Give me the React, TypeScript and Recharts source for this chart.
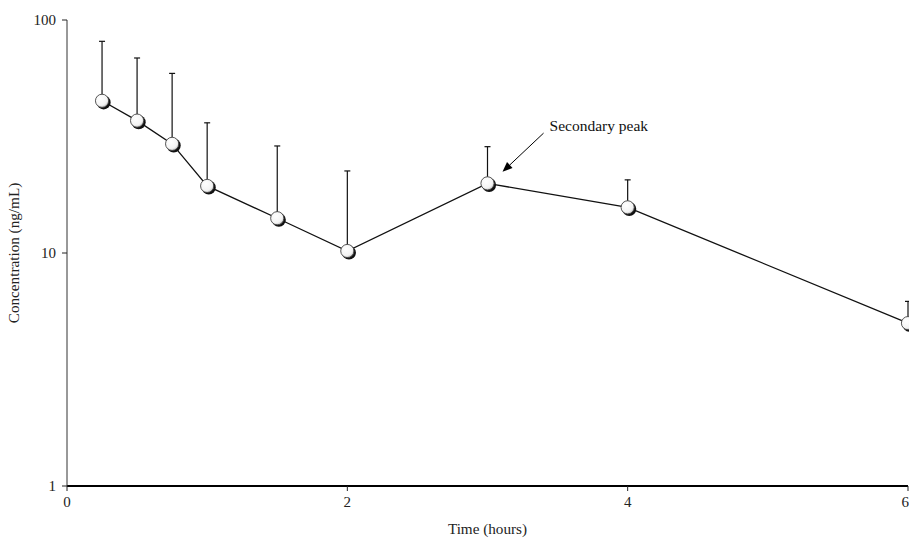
import { LineChart, Line, XAxis, YAxis, ErrorBar, ReferenceLine } from 'recharts';

// Sampling times (hours)
const times = [0.25, 0.5, 0.75, 1, 1.5, 2, 3, 4, 6];
// Mean concentration (ng/mL)
const meanConc = [45, 37, 29.4, 19.4, 14.1, 10.2, 19.9, 15.7, 5];
// Upper end of the error bar (mean + SD)
const upperConc = [81, 68.7, 59, 36.2, 28.8, 22.5, 28.6, 20.6, 6.2];

const xTicks = [0, 2, 4, 6];
const yTicks = [1, 10, 100];

// Arrow pointing at the secondary peak, in data units
const arrowFrom = { x: 3.4, y: 32.7 };
const arrowTo = { x: 3.107, y: 22.3 };
const peakLabel = 'Secondary peak';

const data = times.map((t, i) => ({
  time: t,
  conc: meanConc[i],
  err: [0, upperConc[i] - meanConc[i]],
}));

const FONT = '"Liberation Serif", "Times New Roman", serif';

const SphereDot = (props: any) => {
  const { cx, cy, index } = props;
  if (cx == null || cy == null) return null;
  return (
    <g key={`dot-${index}`}>
      <circle cx={cx + 1.6} cy={cy + 1.6} r={7} fill="#111" />
      <circle cx={cx} cy={cy} r={6.6} fill="url(#sphereFill)" stroke="#444" strokeWidth={0.9} />
    </g>
  );
};

const ArrowShape = (props: any) => {
  const { x1, y1, x2, y2 } = props;
  if (x1 == null || x2 == null) return null;
  const ang = Math.atan2(y2 - y1, x2 - x1);
  const len = 10;
  const half = 4;
  const bx = x2 - len * Math.cos(ang);
  const by = y2 - len * Math.sin(ang);
  const px = -Math.sin(ang) * half;
  const py = Math.cos(ang) * half;
  return (
    <g>
      <line x1={x1} y1={y1} x2={bx} y2={by} stroke="#000" strokeWidth={1} />
      <polygon points={`${x2},${y2} ${bx + px},${by + py} ${bx - px},${by - py}`} fill="#000" />
      <text x={x1 + 6} y={y1 - 2} fontFamily={FONT} fontSize={15.5} fill="#111">
        {peakLabel}
      </text>
    </g>
  );
};

export default function App() {
  return (
    <div style={{ position: 'absolute', left: 0, top: 0, background: '#fff' }}>
      <LineChart
        width={909}
        height={539}
        data={data}
        margin={{ top: 20, right: 1, bottom: 0, left: 0 }}
      >
        <defs>
          <radialGradient id="sphereFill" cx="40%" cy="35%" r="70%">
            <stop offset="0%" stopColor="#ffffff" />
            <stop offset="70%" stopColor="#f4f4f4" />
            <stop offset="100%" stopColor="#bdbdbd" />
          </radialGradient>
        </defs>
        <XAxis
          dataKey="time"
          type="number"
          domain={[0, 6]}
          ticks={xTicks}
          height={53}
          axisLine={{ stroke: '#000', strokeWidth: 2 }}
          tickLine={{ stroke: '#222' }}
          tickSize={5}
          tickMargin={5}
          tick={{ fill: '#222', fontSize: 15, fontFamily: FONT }}
          label={{
            value: 'Time (hours)',
            position: 'insideBottom',
            offset: 5,
            fill: '#222',
            fontSize: 15.2,
            fontFamily: FONT,
          }}
        />
        <YAxis
          scale="log"
          domain={[1, 100]}
          ticks={yTicks}
          width={67}
          axisLine={{ stroke: '#333', strokeWidth: 1 }}
          tickLine={{ stroke: '#222' }}
          tickSize={5}
          tickMargin={6}
          tick={{ fill: '#222', fontSize: 15, fontFamily: FONT }}
          label={{
            content: ({ viewBox }: any) => (
              <text
                x={viewBox.x + 19}
                y={viewBox.y + viewBox.height / 2}
                transform={`rotate(-90, ${viewBox.x + 19}, ${viewBox.y + viewBox.height / 2})`}
                textAnchor="middle"
                fontFamily={FONT}
                fontSize={15.2}
                fill="#222"
              >
                Concentration (ng/mL)
              </text>
            ),
          }}
        />
        <ReferenceLine
          segment={[arrowFrom, arrowTo]}
          stroke="#000"
          shape={ArrowShape}
          ifOverflow="visible"
        />
        <Line
          type="linear"
          dataKey="conc"
          stroke="#111"
          strokeWidth={1.3}
          dot={SphereDot}
          activeDot={false}
          isAnimationActive={false}
        >
          <ErrorBar dataKey="err" direction="y" width={3} stroke="#111" strokeWidth={1.2} />
        </Line>
      </LineChart>
    </div>
  );
}
